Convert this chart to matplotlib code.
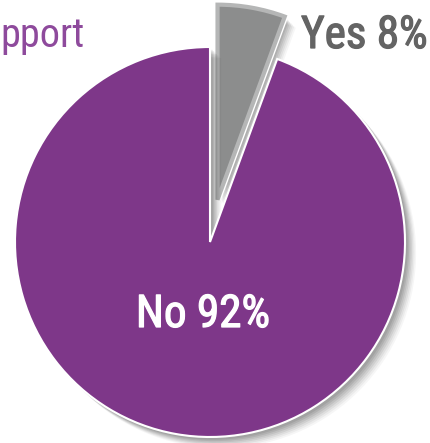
import matplotlib
matplotlib.use("Agg")
import matplotlib.pyplot as plt
import matplotlib.patheffects as pe
from matplotlib import font_manager

labels = ["Yes", "No"]
values = [8, 92]                 # percentages printed on the chart
slice_shares = [5.6, 94.4]       # slice sizes as drawn in the picture
colors = ["#8C8D8D", "#7E3789"]
title_text = "pport"

W, H = 430, 443
avail = {f.name for f in font_manager.fontManager.ttflist}
font = "DejaVu Sans"
for cand in ["Liberation Sans Narrow", "Roboto Condensed", "DejaVu Sans Condensed", "Open Sans Condensed", "Roboto"]:
    if cand in avail:
        font = cand
        break

fig = plt.figure(figsize=(W / 100, H / 100), dpi=100)
ax = fig.add_axes([0, 0, 1, 1])

cx, cy, r = 210, H - 242, 195
explode = [43, 0.0]
wedges, _ = ax.pie(slice_shares, explode=explode, colors=colors, startangle=90,
                   counterclock=False, center=(cx, cy), radius=r, frame=True)
ax.set_xlim(0, W)
ax.set_ylim(0, H)
ax.set_aspect("equal")
ax.axis("off")

shadow = [pe.SimplePatchShadow(offset=(o, -o), shadow_rgbFace="black", alpha=a)
          for o, a in [(8, 0.035), (7, 0.045), (6, 0.055), (5, 0.065), (4, 0.07), (3, 0.08), (2, 0.08)]]
wedges[0].set_edgecolor("#B5B6B6")
wedges[0].set_linewidth(3)
wedges[0].set_path_effects(shadow + [pe.Stroke(linewidth=5, foreground="white"), pe.Normal()])
wedges[1].set_edgecolor("white")
wedges[1].set_linewidth(1.5)
wedges[1].set_path_effects(shadow + [pe.Normal()])

fs = 32.5
ax.text(301, H - 48, f"{labels[0]} {values[0]}%", ha="left", va="baseline",
        fontsize=fs, color="#646464", family=font,
        path_effects=[pe.Stroke(linewidth=0.9, foreground="#646464"), pe.Normal()])
ax.text(203, H - 327, f"{labels[1]} {values[1]}%", ha="center", va="baseline",
        fontsize=fs, color="white", family=font,
        path_effects=[pe.Stroke(linewidth=0.9, foreground="white"), pe.Normal()])
ax.text(0, H - 47, title_text, ha="left", va="baseline",
        fontsize=29, color="#8E4A9C", family=font)

fig.savefig("out.png", dpi=100)
